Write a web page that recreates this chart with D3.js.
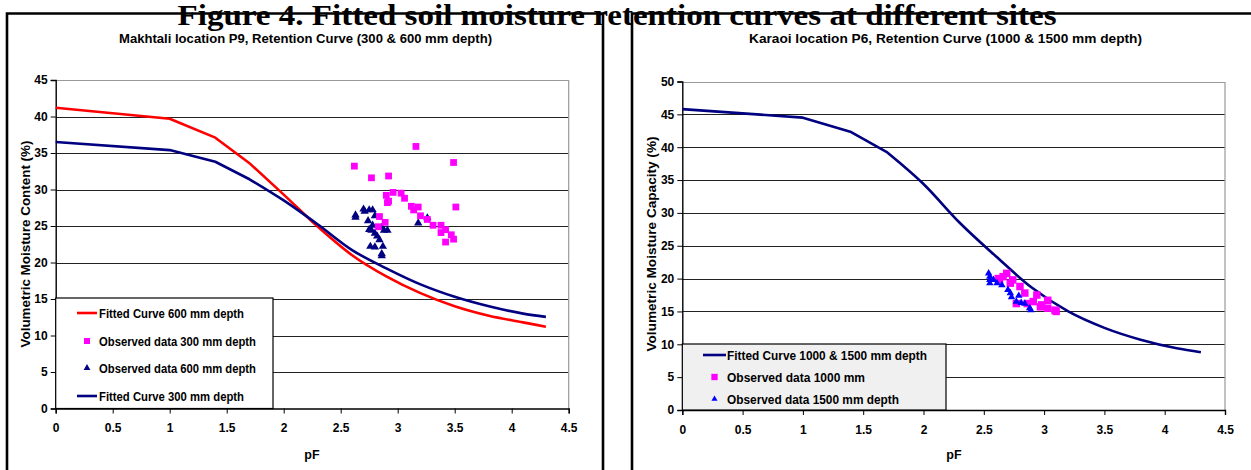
<!DOCTYPE html>
<html>
<head>
<meta charset="utf-8">
<script src="https://cdn.jsdelivr.net/npm/d3@7/dist/d3.min.js"></script>
<style>
  html, body { margin: 0; padding: 0; background: #fff; }
  svg { display: block; }
  .tick text { font-family: "Liberation Sans", Arial, sans-serif; font-weight: bold; font-size: 12px; fill: #000; }
  .lbl { font-family: "Liberation Sans Narrow", "Arial Narrow", "Liberation Sans", Arial, sans-serif; font-weight: bold; fill: #000; }
</style>
</head>
<body>
<svg id="fig" width="1251" height="470"></svg>
<script>
// ---- Makhtali P9 (300 & 600 mm depth) ----
const pfKnots = [0, 1, 1.4, 1.7, 2, 2.3, 2.6, 2.9, 3.2, 3.5, 3.8, 4.1, 4.3];
const fitted600 = [41.2, 39.7, 37.1, 33.6, 29.3, 24.9, 21.0, 18.1, 15.8, 14.0, 12.7, 11.8, 11.2];
const fitted300 = [36.5, 35.4, 33.8, 31.4, 28.5, 25.2, 21.7, 19.2, 17.0, 15.3, 14.0, 13.0, 12.55];

const obs300pF  = [2.62, 3.16, 3.49, 2.77, 2.92, 2.96, 2.90, 3.03, 2.92, 2.91, 3.06, 3.12, 3.18, 3.14, 3.51, 3.20, 2.84, 2.89, 2.83, 3.26, 3.31, 3.38, 3.42, 3.38, 3.47, 3.49, 3.42];
const obs300val = [33.2, 35.9, 33.7, 31.6, 31.85, 29.6, 29.2, 29.5, 28.4, 28.2, 28.8, 27.7, 27.6, 27.2, 27.6, 26.4, 26.3, 25.5, 24.9, 25.9, 25.1, 25.1, 24.5, 24.1, 23.8, 23.2, 22.8];

const obs600pF  = [2.63, 2.63, 2.70, 2.71, 2.75, 2.78, 2.80, 2.74, 2.78, 2.75, 2.77, 2.80, 2.82, 2.86, 2.88, 2.91, 2.84, 2.76, 2.80, 2.87, 2.86, 2.86, 3.18, 3.26];
const obs600val = [26.5, 26.2, 27.3, 27.0, 27.2, 27.2, 26.4, 25.7, 25.1, 24.5, 24.4, 24.0, 23.6, 24.8, 24.4, 24.4, 23.1, 22.2, 22.1, 22.2, 21.2, 20.9, 25.4, 26.1];

// ---- Karaoi P6 (1000 & 1500 mm depth) ----
const fitted1000_1500 = [45.8, 44.5, 42.3, 39.2, 34.4, 28.5, 23.4, 18.6, 15.0, 12.5, 10.7, 9.4, 8.8];

const obs1000pF  = [2.69, 2.66, 2.63, 2.74, 2.80, 2.84, 2.94, 2.91, 2.98, 3.03, 3.03, 3.09, 3.10, 2.77, 2.86, 2.72, 2.62, 2.97];
const obs1000val = [20.8, 20.3, 19.8, 19.8, 18.8, 17.8, 17.5, 16.5, 16.0, 16.7, 15.5, 15.2, 15.0, 16.2, 16.2, 19.3, 20.0, 15.7];

const obs1500pF  = [2.54, 2.55, 2.55, 2.58, 2.61, 2.65, 2.70, 2.72, 2.73, 2.79, 2.77, 2.81, 2.84, 2.88, 2.89, 2.55];
const obs1500val = [20.8, 19.8, 19.3, 19.8, 19.3, 19.0, 18.3, 17.8, 17.2, 17.4, 16.5, 16.3, 16.2, 15.5, 15.2, 20.3];

const xTicks = [0, 0.5, 1, 1.5, 2, 2.5, 3, 3.5, 4, 4.5];
const yTicksLeft = [0, 5, 10, 15, 20, 25, 30, 35, 40, 45];
const yTicksRight = [0, 5, 10, 15, 20, 25, 30, 35, 40, 45, 50];

// knots up to this index are joined by straight segments, the rest smoothly
const straightUpTo = 3;

const svg = d3.select("#fig");

// panel frames
svg.append("path")
  .attr("d", "M7,470 L7,13.5 L603,13.5 L603,470")
  .attr("fill", "none").attr("stroke", "#000").attr("stroke-width", 2.6);
svg.append("path")
  .attr("d", "M632,470 L632,13.5 L1260,13.5")
  .attr("fill", "none").attr("stroke", "#000").attr("stroke-width", 2.6);

function label(g, text, x, y, size, width, rotate) {
  const t = g.append("text").attr("class", "lbl")
    .attr("text-anchor", "middle")
    .attr("font-size", size)
    .text(text);
  if (rotate) t.attr("transform", `translate(${x},${y}) rotate(-90)`);
  else t.attr("x", x).attr("y", y);
  if (width) t.attr("textLength", width).attr("lengthAdjust", "spacingAndGlyphs");
  return t;
}

function panel(spec) {
  const g = svg.append("g");
  const x = d3.scaleLinear().domain([0, 4.5]).range(spec.xRange);
  const y = d3.scaleLinear().domain(spec.yDomain).range(spec.yRange);
  const [x0, x1] = spec.xRange;
  const [yb, yt] = spec.yRange;

  // horizontal gridlines
  g.append("g").selectAll("line")
    .data(spec.yTicks.slice(1))
    .join("line")
    .attr("x1", x0).attr("x2", x1)
    .attr("y1", d => Math.round(y(d)) + 0.5).attr("y2", d => Math.round(y(d)) + 0.5)
    .attr("stroke", "#222").attr("stroke-width", 1);

  // plot-area border (top & right)
  g.append("path")
    .attr("d", `M${x0},${Math.round(yt) + 0.5} L${x1},${Math.round(yt) + 0.5} L${x1},${yb}`)
    .attr("fill", "none").attr("stroke", "#999").attr("stroke-width", 1.2);

  // axes
  const ya = g.append("g").attr("transform", `translate(${x0},0)`)
    .call(d3.axisLeft(y).tickValues(spec.yTicks).tickSize(5).tickPadding(3).tickFormat(d3.format("d")));
  const xa = g.append("g").attr("transform", `translate(0,${yb})`)
    .call(d3.axisBottom(x).tickValues(xTicks).tickSize(5).tickPadding(10).tickFormat(d => String(d)));
  [ya, xa].forEach(a => {
    a.select(".domain").attr("stroke", "#000").attr("stroke-width", 1.4);
    a.selectAll(".tick line").attr("stroke", "#000");
  });

  // fitted curves: straight segments at low pF, smooth beyond
  const straight = d3.line().x(d => x(d[0])).y(d => y(d[1])).curve(d3.curveLinear);
  const smooth = d3.line().x(d => x(d[0])).y(d => y(d[1])).curve(d3.curveMonotoneX);
  spec.curves.forEach(c => {
    const pts = pfKnots.map((p, i) => [p, c.values[i]]);
    const d = straight(pts.slice(0, straightUpTo + 1)) +
              smooth(pts.slice(straightUpTo)).replace(/^M/, "L");
    g.append("path")
      .attr("d", d)
      .attr("fill", "none").attr("stroke", c.color).attr("stroke-width", 2.6)
      .attr("stroke-linejoin", "round");
  });

  // observed points
  spec.points.forEach(s => {
    const sym = d3.symbol().type(s.type).size(s.size);
    g.append("g").selectAll("path")
      .data(s.pf.map((p, i) => [p, s.val[i]]))
      .join("path")
      .attr("transform", d => `translate(${x(d[0])},${y(d[1])})`)
      .attr("d", sym)
      .attr("fill", s.color);
  });

  // legend
  const L = spec.legend;
  g.append("rect")
    .attr("x", L.x).attr("y", L.y).attr("width", L.w).attr("height", L.h)
    .attr("fill", L.fill).attr("stroke", "#000").attr("stroke-width", 1.2);
  L.items.forEach((it, i) => {
    const cy = L.rows[i];
    if (it.kind === "line") {
      g.append("line").attr("x1", L.sx0).attr("x2", L.sx1).attr("y1", cy).attr("y2", cy)
        .attr("stroke", it.color).attr("stroke-width", 2.6);
    } else {
      g.append("path").attr("transform", `translate(${(L.sx0 + L.sx1) / 2},${cy})`)
        .attr("d", d3.symbol().type(it.type).size(it.size)).attr("fill", it.color);
    }
    label(g, it.text, 0, cy + 4.5, 12.5, it.w).attr("text-anchor", "start").attr("x", L.tx);
  });

  // titles
  label(g, spec.title, spec.titleX, 43, 12.5, spec.titleW);
  label(g, spec.yTitle, spec.yTitleX, spec.yTitleY, 12.5, spec.yTitleW, true);
  label(g, "pF", spec.pfX, 459, 12.5);
}

panel({
  xRange: [55.7, 568.7], yDomain: [0, 45], yRange: [408.5, 80],
  yTicks: yTicksLeft,
  curves: [
    { values: fitted600, color: "#ff0000" },
    { values: fitted300, color: "#000080" }
  ],
  points: [
    { pf: obs600pF, val: obs600val, type: d3.symbolTriangle, size: 30, color: "#000080" },
    { pf: obs300pF, val: obs300val, type: d3.symbolSquare, size: 46, color: "#ff00ff" }
  ],
  legend: {
    x: 55.7, y: 298, w: 217.3, h: 110.5, fill: "#fff",
    sx0: 77, sx1: 97, tx: 99, rows: [313, 341, 368, 396],
    items: [
      { kind: "line", color: "#ff0000", text: "Fitted Curve 600 mm depth", w: 145 },
      { kind: "sym", type: d3.symbolSquare, size: 36, color: "#ff00ff", text: "Observed data 300 mm depth", w: 157 },
      { kind: "sym", type: d3.symbolTriangle, size: 20, color: "#000080", text: "Observed data 600 mm depth", w: 157 },
      { kind: "line", color: "#000080", text: "Fitted Curve 300 mm depth", w: 145 }
    ]
  },
  title: "Makhtali location P9, Retention Curve (300 & 600 mm depth)", titleX: 305.5, titleW: 373,
  yTitle: "Volumetric Moisture Content (%)", yTitleX: 30, yTitleY: 244, yTitleW: 207,
  pfX: 312
});

panel({
  xRange: [682.3, 1225], yDomain: [0, 50], yRange: [410, 81.5],
  yTicks: yTicksRight,
  curves: [
    { values: fitted1000_1500, color: "#000080" }
  ],
  points: [
    { pf: obs1000pF, val: obs1000val, type: d3.symbolSquare, size: 56, color: "#ff00ff" },
    { pf: obs1500pF, val: obs1500val, type: d3.symbolTriangle, size: 24, color: "#0000ff" }
  ],
  legend: {
    x: 682.3, y: 344, w: 263.7, h: 66, fill: "#f0f0f0",
    sx0: 703, sx1: 726, tx: 727, rows: [355, 377, 399],
    items: [
      { kind: "line", color: "#000080", text: "Fitted Curve 1000 & 1500 mm depth", w: 200 },
      { kind: "sym", type: d3.symbolSquare, size: 40, color: "#ff00ff", text: "Observed data 1000 mm", w: 138 },
      { kind: "sym", type: d3.symbolTriangle, size: 16, color: "#0000ff", text: "Observed data 1500 mm depth", w: 172 }
    ]
  },
  title: "Karaoi location P6, Retention Curve (1000 & 1500 mm depth)", titleX: 945.5, titleW: 393,
  yTitle: "Volumetric Moisture Capacity (%)", yTitleX: 656, yTitleY: 244, yTitleW: 215,
  pfX: 954
});

// figure caption drawn over the frames
svg.append("text")
  .attr("x", 617).attr("y", 25)
  .attr("text-anchor", "middle")
  .attr("font-family", "'Liberation Serif', 'Times New Roman', serif")
  .attr("font-weight", "bold").attr("font-size", 30)
  .attr("textLength", 879).attr("lengthAdjust", "spacingAndGlyphs")
  .attr("fill", "#000")
  .text("Figure 4. Fitted soil moisture retention curves at different sites");
</script>
</body>
</html>
